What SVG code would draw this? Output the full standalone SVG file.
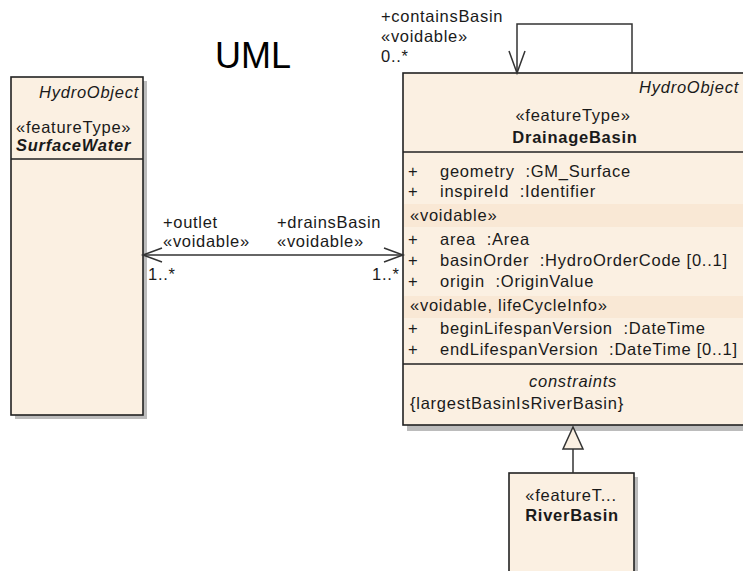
<svg xmlns="http://www.w3.org/2000/svg" width="743" height="571" viewBox="0 0 743 571">
<style>
text{font-family:"Liberation Sans",Arial,sans-serif;font-size:16.5px;fill:#1a1a1a;letter-spacing:0.75px;white-space:pre}
.box{fill:#fbf0e2;stroke:#222;stroke-width:1.6}
.shadow{fill:#bcbcbc}
.band{fill:#f9e8d5}
.sep{stroke:#222;stroke-width:1.6}
.it{font-style:italic}
.b{font-weight:bold}
.bi{font-weight:bold;font-style:italic}
.mid{text-anchor:middle}
.end{text-anchor:end}
.lbl{letter-spacing:0.7px}
.conn{fill:none;stroke:#333;stroke-width:1.5}
.title{font-size:36px;letter-spacing:0;fill:#000}
</style>
<rect width="743" height="571" fill="#ffffff"/>
<text class="title" x="215" y="68">UML</text>

<g id="SurfaceWater">
  <rect class="shadow" x="15" y="81" width="132" height="338"/>
  <rect class="box" x="11" y="77" width="132" height="338"/>
  <line class="sep" x1="11" y1="159" x2="143" y2="159"/>
  <text class="it end" x="139" y="98">HydroObject</text>
  <text x="16" y="133">«featureType»</text>
  <text class="bi" x="16" y="151">SurfaceWater</text>
</g>

<g id="DrainageBasin">
  <rect class="shadow" x="407" y="77" width="345" height="354"/>
  <rect class="box" x="403" y="73" width="345" height="352"/>
  <line class="sep" x1="403" y1="152" x2="748" y2="152"/>
  <text class="it end" x="739" y="93">HydroObject</text>
  <text class="mid" x="573" y="121">«featureType»</text>
  <text class="b mid" x="575" y="143">DrainageBasin</text>
  <text x="408" y="177">+</text><text x="440" y="177">geometry  :GM_Surface</text>
  <text x="408" y="197">+</text><text x="440" y="197">inspireId  :Identifier</text>
  <rect class="band" x="404" y="204" width="339" height="23"/>
  <text x="410" y="221">«voidable»</text>
  <text x="408" y="245">+</text><text x="440" y="245">area  :Area</text>
  <text x="408" y="266">+</text><text x="440" y="266">basinOrder  :HydroOrderCode [0..1]</text>
  <text x="408" y="287">+</text><text x="440" y="287">origin  :OriginValue</text>
  <rect class="band" x="404" y="296" width="339" height="22"/>
  <text x="410" y="311">«voidable, lifeCycleInfo»</text>
  <text x="408" y="334">+</text><text x="440" y="334">beginLifespanVersion  :DateTime</text>
  <text x="408" y="355">+</text><text x="440" y="355">endLifespanVersion  :DateTime [0..1]</text>
  <line class="sep" x1="403" y1="364" x2="748" y2="364"/>
  <text class="it mid" x="573" y="387">constraints</text>
  <text x="410" y="409">{largestBasinIsRiverBasin}</text>
</g>

<g id="RiverBasin">
  <rect class="shadow" x="513" y="477" width="125" height="110"/>
  <rect class="box" x="509" y="473" width="125" height="110"/>
  <text class="mid" x="571" y="501">«featureT...</text>
  <text class="b mid" x="572" y="521">RiverBasin</text>
</g>

<g id="connectors">
  <line class="conn" x1="143" y1="255" x2="403" y2="255"/>
  <polyline class="conn" points="162,248 143,255 162,262"/>
  <polyline class="conn" points="384,248 403,255 384,262"/>
  <text class="lbl" x="163" y="228">+outlet</text>
  <text class="lbl" x="163" y="247">«voidable»</text>
  <text class="lbl" x="277" y="228">+drainsBasin</text>
  <text class="lbl" x="277" y="247">«voidable»</text>
  <text class="lbl" x="148" y="280">1..*</text>
  <text class="lbl" x="372" y="280">1..*</text>

  <path class="conn" d="M517,73 V24 H632 V73"/>
  <polyline class="conn" points="509,51 517,73 525,51"/>
  <text class="lbl" x="381" y="22">+containsBasin</text>
  <text class="lbl" x="381" y="42">«voidable»</text>
  <text class="lbl" x="381" y="62">0..*</text>

  <line class="conn" x1="573" y1="449" x2="573" y2="473"/>
  <polygon points="573,427 563,449 583,449" fill="#fbf0e2" stroke="#333" stroke-width="1.5"/>
</g>
</svg>
